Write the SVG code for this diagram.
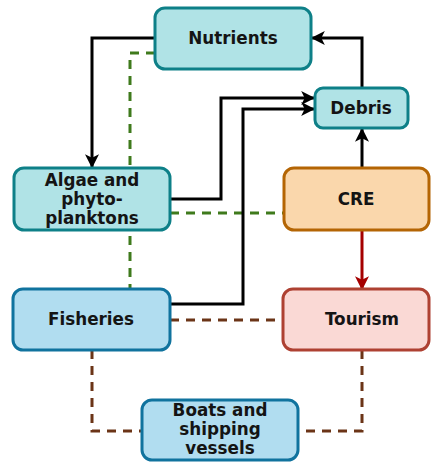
<svg xmlns="http://www.w3.org/2000/svg" width="432" height="462" viewBox="0 0 432 462">
<defs>
<style>
.t{font-family:"DejaVu Sans",Verdana,sans-serif;font-weight:bold;font-size:16.8px;fill:#141414;text-anchor:middle}
.teal{fill:#b0e3e6;stroke:#0e8088;stroke-width:3}
.blue{fill:#b1ddf0;stroke:#10739e;stroke-width:3}
.orange{fill:#fad7ac;stroke:#b46504;stroke-width:3}
.pink{fill:#fad9d5;stroke:#ae4132;stroke-width:3}
.blk{fill:none;stroke:#000;stroke-width:3}
.red{fill:none;stroke:#a50000;stroke-width:3}
.grn{fill:none;stroke:#3f7a1c;stroke-width:3;stroke-dasharray:9 7}
.brn{fill:none;stroke:#6b3417;stroke-width:3;stroke-dasharray:9 7}
</style>
<marker id="ab" viewBox="0 0 12 12" refX="11" refY="6" markerWidth="14" markerHeight="14" markerUnits="userSpaceOnUse" orient="auto">
<path d="M0,0 L12,6 L0,12 L3,6 Z" fill="#000"/>
</marker>
<marker id="ar" viewBox="0 0 12 12" refX="11" refY="6" markerWidth="14" markerHeight="14" markerUnits="userSpaceOnUse" orient="auto">
<path d="M0,0 L12,6 L0,12 L3,6 Z" fill="#a50000"/>
</marker>
</defs>
<rect width="432" height="462" fill="#fff"/>
<g id="connectors">
<path class="grn" d="M155,53 H130 V289"/>
<path class="grn" d="M170,213 H283"/>
<path class="brn" d="M170,320 H283"/>
<path class="brn" d="M92,350 V431 H142"/>
<path class="brn" d="M362,350 V431 H298"/>
<path class="blk" d="M155,38 H92 V167" marker-end="url(#ab)"/>
<path class="blk" d="M170,199 H221 V98 H314" marker-end="url(#ab)"/>
<path class="blk" d="M170,304 H243 V109 H314" marker-end="url(#ab)"/>
<path class="blk" d="M362,88 V38 H312" marker-end="url(#ab)"/>
<path class="blk" d="M362,168 V129" marker-end="url(#ab)"/>
<path class="red" d="M362,231 V289" marker-end="url(#ar)"/>
</g>
<g id="nutrients"><rect class="teal" x="155" y="8" width="156" height="61" rx="10"/><text class="t" x="233" y="44">Nutrients</text></g>
<g id="debris"><rect class="teal" x="315" y="88" width="93" height="40" rx="8"/><text class="t" x="361" y="114">Debris</text></g>
<g id="algae"><rect class="teal" x="14" y="168" width="156" height="62" rx="10"/><text class="t" x="92" y="186">Algae and</text><text class="t" x="92" y="205">phyto-</text><text class="t" x="92" y="224">planktons</text></g>
<g id="cre"><rect class="orange" x="284" y="168" width="145" height="62" rx="10"/><text class="t" x="356" y="205">CRE</text></g>
<g id="fisheries"><rect class="blue" x="13" y="289" width="157" height="61" rx="10"/><text class="t" x="91" y="325">Fisheries</text></g>
<g id="tourism"><rect class="pink" x="283" y="289" width="146" height="61" rx="10"/><text class="t" x="362" y="325">Tourism</text></g>
<g id="boats"><rect class="blue" x="142" y="400" width="156" height="60" rx="10"/><text class="t" x="220" y="416">Boats and</text><text class="t" x="220" y="435">shipping</text><text class="t" x="220" y="454">vessels</text></g>
</svg>
